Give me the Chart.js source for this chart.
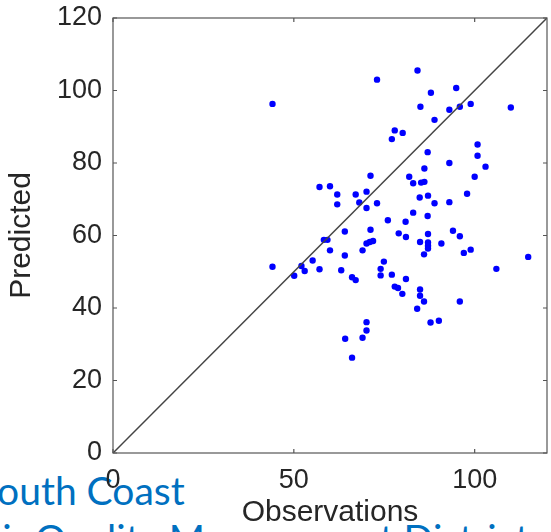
<!DOCTYPE html>
<html>
<head>
<meta charset="utf-8">
<script src="https://cdn.jsdelivr.net/npm/chart.js@4.4.0/dist/chart.umd.min.js"></script>
<style>
html, body { margin: 0; padding: 0; background: #fff; }
#wrap { position: relative; width: 551px; height: 532px; overflow: hidden; }
#org {
    position: absolute; left: -24px; top: 466px;
    font-family: Lato, sans-serif; font-size: 39px; line-height: 48px;
    color: #0070c0; white-space: nowrap;
}
#chart { position: absolute; left: 0; top: 0; }
</style>
</head>
<body>
<div id="wrap">
    <div id="org">South Coast<br>Air Quality Management District</div>
    <canvas id="chart" width="551" height="532"></canvas>
</div>
<script>
// Observed vs predicted values
const obsX = [
    44.1, 73.0, 84.2, 87.9, 94.9, 85.0, 93.0, 95.9, 98.9, 110.0,
    88.9, 77.9, 80.1, 77.1, 87.0, 100.8, 100.8, 103.0, 93.0, 86.1,
    100.0, 71.2, 81.9, 83.0, 85.2, 86.1, 57.1, 60.0, 62.0, 67.1,
    70.1, 97.9, 84.8, 87.1, 62.0, 68.1, 73.0, 70.1, 88.9, 93.0,
    83.0, 87.0, 76.0, 80.9, 64.1, 71.2, 94.0, 95.9, 79.0, 81.0,
    87.1, 58.3, 59.3, 70.1, 71.0, 71.9, 84.9, 87.1, 87.1, 87.1,
    90.8, 97.0, 98.9, 60.0, 69.0, 64.1, 86.0, 114.8, 55.2, 74.9,
    44.1, 52.1, 53.0, 57.1, 63.1, 74.0, 106.0, 50.1, 74.0, 77.1,
    66.1, 67.1, 81.0, 77.9, 78.8, 80.0, 84.9, 84.9, 86.0, 84.1,
    95.9, 70.1, 70.1, 87.8, 90.1, 64.2, 69.0, 66.1
];
const predY = [
    96.3, 103.0, 105.5, 99.4, 100.7, 95.5, 94.7, 95.5, 96.3, 95.3,
    91.9, 89.0, 88.3, 86.6, 83.0, 85.1, 82.0, 79.0, 80.0, 78.5,
    76.2, 76.5, 76.2, 74.4, 74.6, 74.8, 73.4, 73.6, 71.3, 71.3,
    72.1, 71.5, 70.5, 71.0, 68.6, 69.1, 68.9, 67.6, 68.9, 69.2,
    66.3, 65.4, 64.2, 63.8, 61.1, 61.6, 61.3, 59.8, 60.6, 59.6,
    60.4, 58.8, 58.8, 57.8, 58.2, 58.5, 58.2, 58.1, 57.2, 56.4,
    57.8, 55.2, 56.1, 55.9, 55.9, 54.5, 54.8, 54.1, 53.1, 52.8,
    51.4, 51.6, 50.2, 50.7, 50.4, 50.8, 50.8, 48.9, 49.0, 49.2,
    48.5, 47.7, 48.0, 45.9, 45.5, 43.9, 45.1, 43.4, 41.8, 39.8,
    41.8, 36.1, 33.8, 36.0, 36.5, 31.5, 31.8, 26.3
];
const xTicks = [0, 50, 100];
const yTicks = [0, 20, 40, 60, 80, 100, 120];
const axisMin = 0;
const axisMax = 120;

const textColor = '#262626';
const tickFont = { family: 'Liberation Sans', size: 27 };
const titleFont = { family: 'Liberation Sans', size: 30 };

// box around the plot with small inward ticks on all four sides
const framePlugin = {
    id: 'frame',
    afterDraw(chart) {
        const { ctx, chartArea: a, scales: { x, y } } = chart;
        const len = 4;
        ctx.save();
        ctx.strokeStyle = '#555';
        ctx.lineWidth = 1.2;
        ctx.strokeRect(a.left, a.top, a.right - a.left, a.bottom - a.top);
        ctx.beginPath();
        xTicks.forEach((v) => {
            const px = x.getPixelForValue(v);
            ctx.moveTo(px, a.bottom);
            ctx.lineTo(px, a.bottom - len);
            ctx.moveTo(px, a.top);
            ctx.lineTo(px, a.top + len);
        });
        yTicks.forEach((v) => {
            const py = y.getPixelForValue(v);
            ctx.moveTo(a.left, py);
            ctx.lineTo(a.left + len, py);
            ctx.moveTo(a.right, py);
            ctx.lineTo(a.right - len, py);
        });
        ctx.stroke();
        ctx.restore();
    }
};

const points = obsX.map((x, i) => ({ x: x, y: predY[i] }));

new Chart(document.getElementById('chart'), {
    type: 'scatter',
    data: {
        datasets: [
            {
                label: '1:1',
                data: [{ x: axisMin, y: axisMin }, { x: axisMax, y: axisMax }],
                showLine: true,
                borderColor: '#444',
                borderWidth: 1.5,
                pointRadius: 0,
            },
            {
                label: 'Predicted vs observed',
                data: points,
                backgroundColor: '#0000ff',
                borderWidth: 0,
                pointRadius: 3.2,
            },
        ]
    },
    options: {
        responsive: false,
        animation: false,
        layout: { padding: { top: 18, right: 4, left: 0, bottom: 0 } },
        plugins: {
            legend: { display: false },
            tooltip: { enabled: false },
        },
        scales: {
            x: {
                type: 'linear',
                min: axisMin,
                max: axisMax,
                afterBuildTicks: (s) => { s.ticks = xTicks.map((v) => ({ value: v })); },
                afterFit: (s) => {
                    s.height = 79;
                    s.paddingLeft = 0;
                    s.paddingRight = 0;
                },
                grid: { display: false, drawTicks: false },
                border: { display: false },
                ticks: { color: textColor, font: tickFont, padding: 11, maxRotation: 0 },
                title: {
                    display: true,
                    text: 'Observations',
                    color: textColor,
                    font: titleFont,
                    padding: { top: 0, bottom: 1 },
                },
            },
            y: {
                type: 'linear',
                min: axisMin,
                max: axisMax,
                afterBuildTicks: (s) => { s.ticks = yTicks.map((v) => ({ value: v })); },
                afterFit: (s) => {
                    s.width = 113;
                    s.paddingTop = 0;
                    s.paddingBottom = 0;
                },
                grid: { display: false, drawTicks: false },
                border: { display: false },
                ticks: { color: textColor, font: tickFont, padding: 11 },
                title: {
                    display: true,
                    text: 'Predicted',
                    color: textColor,
                    font: titleFont,
                    padding: { top: 4, bottom: 0 },
                },
            }
        }
    },
    plugins: [framePlugin]
});
</script>
</body>
</html>
